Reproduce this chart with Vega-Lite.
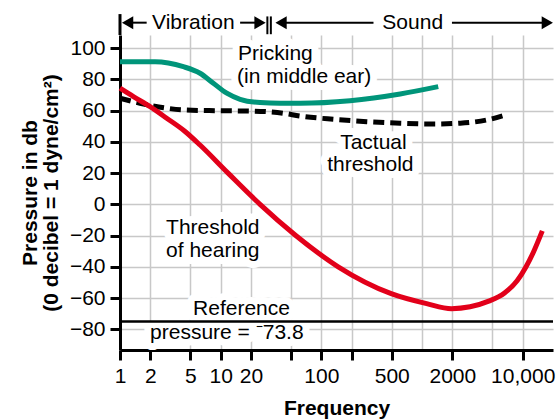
{
  "$schema": "https://vega.github.io/schema/vega-lite/v6.json",
  "width": 433,
  "height": 315,
  "autosize": {"type": "none"},
  "padding": {"left": 120, "top": 35, "right": 4, "bottom": 69},
  "background": "white",
  "config": {
    "font": "Liberation Sans",
    "view": {"stroke": null},
    "axis": {"labelFont": "Liberation Sans", "titleFont": "Liberation Sans", "labelColor": "black", "titleColor": "black", "labelOverlap": false},
    "axisY": {"labelOverlap": false}
  },
  "resolve": {"axis": {"x": "independent", "y": "independent"}},
  "datasets": {
    "pricking": [
      {"f": 1, "db": 91.4}, {"f": 2.23, "db": 91.4}, {"f": 4.26, "db": 88.2}, {"f": 6.24, "db": 84},
      {"f": 8.46, "db": 77.6}, {"f": 11.5, "db": 71.2}, {"f": 15.6, "db": 67.3}, {"f": 24.6, "db": 65.2},
      {"f": 38.9, "db": 64.8}, {"f": 61.5, "db": 64.8}, {"f": 193, "db": 66.4}, {"f": 607, "db": 70.7},
      {"f": 1449, "db": 75.4}
    ],
    "tactual": [
      {"f": 1, "db": 68}, {"f": 1.58, "db": 64.8}, {"f": 2.91, "db": 61.6}, {"f": 4.26, "db": 60.5},
      {"f": 9.15, "db": 60}, {"f": 19.6, "db": 59.8}, {"f": 41.7, "db": 58.4}, {"f": 61.5, "db": 56.6},
      {"f": 132, "db": 54.5}, {"f": 283, "db": 53}, {"f": 607, "db": 52}, {"f": 1301, "db": 51.5},
      {"f": 2399, "db": 52}, {"f": 4416, "db": 54.1}, {"f": 7030, "db": 57.6}
    ],
    "hearing": [
      {"f": 1, "db": 74.4}, {"f": 1.36, "db": 69}, {"f": 1.99, "db": 62.6}, {"f": 2.91, "db": 55.2},
      {"f": 4.43, "db": 46.7}, {"f": 6.24, "db": 38}, {"f": 11.85, "db": 20}, {"f": 24.6, "db": 0},
      {"f": 54.9, "db": -19.6}, {"f": 147, "db": -40}, {"f": 494, "db": -57.2},
      {"f": 1111, "db": -63.6}, {"f": 1964, "db": -66.8}, {"f": 3000, "db": -65.6}, {"f": 4600, "db": -62},
      {"f": 6600, "db": -56.8}, {"f": 8800, "db": -49}, {"f": 10800, "db": -40}, {"f": 12800, "db": -30.5}, {"f": 15660, "db": -17}
    ],
    "labels": [
      {"f": 14.9, "db": 92.5, "t": "Pricking"},
      {"f": 14.55, "db": 77.8, "t": "(in middle ear)"},
      {"f": 153.7, "db": 35.5, "t": "Tactual"},
      {"f": 114.2, "db": 21.4, "t": "threshold"},
      {"f": 2.87, "db": -19, "t": "Threshold"},
      {"f": 2.87, "db": -33.7, "t": "of hearing"},
      {"f": 5.32, "db": -70.9, "t": "Reference"},
      {"f": 1.99, "db": -86.2, "t": "pressure = ⁻73.8"}
    ],
    "header": [
      {"f": 5.35, "db": 116.4, "t": "Vibration"},
      {"f": 808, "db": 116.4, "t": "Sound"}
    ],
    "shafts": [
      {"f": 1.19, "f2": 1.84, "db": 116.4},
      {"f": 15.6, "f2": 24.6, "db": 116.4},
      {"f": 39.8, "f2": 329.6, "db": 116.4},
      {"f": 1983, "f2": 17560, "db": 116.4}
    ],
    "headsLeft": [{"f": 1.19, "db": 116.4}, {"f": 39.8, "db": 116.4}],
    "headsRight": [{"f": 24.6, "db": 116.4}, {"f": 17560, "db": 116.4}],
    "bars": [{"f": 29.1, "db": 109, "db2": 120.4}, {"f": 31.5, "db": 109, "db2": 120.4}],
    "axisExt": [{"f": 1, "db": 108.5, "db2": 121.9}],
    "reference": [{"db": -75}]
  },
  "layer": [
    {
      "data": {"name": "pricking"},
      "mark": {"type": "line", "opacity": 0},
      "encoding": {
        "x": {
          "field": "f", "type": "quantitative",
          "scale": {"type": "log", "domain": [1, 20000], "nice": false},
          "axis": {
            "values": [1, 2, 5, 10, 20, 50, 100, 200, 500, 1000, 2000, 5000, 10000],
            "title": "Frequency",
            "grid": true, "gridColor": "#c8c8c8", "gridWidth": 1.5,
            "domainColor": "black", "domainWidth": 3,
            "tickColor": "black", "tickWidth": 3, "tickSize": 10,
            "tickOpacity": {"condition": {"test": "datum.value == 1000 || datum.value == 5000", "value": 0}, "value": 1},
            "labelExpr": "indexof([50, 200, 1000, 5000], datum.value) >= 0 ? '' : (datum.value == 10000 ? '10,000' : '' + datum.value)",
            "labelFontSize": 21, "labelPadding": 5, "labelFlush": false, "labelOverlap": false,
            "titleFontSize": 21, "titleFontWeight": "bold", "titleBaseline": "alphabetic", "titleY": 64
          }
        },
        "y": {
          "field": "db", "type": "quantitative",
          "scale": {"domain": [-93.3, 108.5], "nice": false, "zero": false},
          "axis": {
            "values": [-80, -60, -40, -20, 0, 20, 40, 60, 80, 100],
            "title": ["Pressure in db", "(0 decibel = 1 dyne/cm²)"],
            "grid": true, "gridColor": "#c8c8c8", "gridWidth": 1.5,
            "domainColor": "black", "domainWidth": 3,
            "tickColor": "black", "tickWidth": 3, "tickSize": 10,
            "labelFontSize": 21, "labelPadding": 5, "labelOverlap": false, "labelFlush": false, "labelSeparation": 0,
            "titleFontSize": 21, "titleFontWeight": "bold", "titleAngle": -90,
            "titleX": -84, "titleY": 157.5, "titleAlign": "center", "titleBaseline": "alphabetic", "titleLineHeight": 21
          }
        }
      }
    },
    {
      "data": {"name": "labels"},
      "mark": {"type": "text", "align": "left", "baseline": "alphabetic", "fontSize": 21, "fill": "white", "stroke": "white", "strokeWidth": 14, "strokeJoin": "round"},
      "encoding": {
        "x": {"field": "f", "type": "quantitative", "axis": null},
        "y": {"field": "db", "type": "quantitative", "axis": null},
        "text": {"field": "t"}
      }
    },
    {
      "data": {"name": "labels"},
      "mark": {"type": "text", "align": "left", "baseline": "alphabetic", "fontSize": 21, "fill": "black"},
      "encoding": {
        "x": {"field": "f", "type": "quantitative", "axis": null},
        "y": {"field": "db", "type": "quantitative", "axis": null},
        "text": {"field": "t"}
      }
    },
    {
      "data": {"name": "pricking"},
      "mark": {"type": "line", "color": "#00957a", "strokeWidth": 5, "interpolate": "monotone", "strokeCap": "butt"},
      "encoding": {
        "x": {"field": "f", "type": "quantitative", "axis": null},
        "y": {"field": "db", "type": "quantitative", "axis": null}
      }
    },
    {
      "data": {"name": "tactual"},
      "mark": {"type": "line", "color": "black", "strokeWidth": 5, "interpolate": "monotone", "strokeDash": [11, 6], "strokeCap": "butt"},
      "encoding": {
        "x": {"field": "f", "type": "quantitative", "axis": null},
        "y": {"field": "db", "type": "quantitative", "axis": null}
      }
    },
    {
      "data": {"name": "hearing"},
      "mark": {"type": "line", "color": "#e2001a", "strokeWidth": 5, "interpolate": "monotone", "strokeCap": "butt"},
      "encoding": {
        "x": {"field": "f", "type": "quantitative", "axis": null},
        "y": {"field": "db", "type": "quantitative", "axis": null}
      }
    },
    {
      "data": {"name": "reference"},
      "mark": {"type": "rule", "color": "black", "strokeWidth": 2.5},
      "encoding": {
        "y": {"field": "db", "type": "quantitative", "axis": null}
      }
    },
    {
      "data": {"name": "header"},
      "mark": {"type": "text", "align": "center", "baseline": "middle", "fontSize": 21, "fill": "black"},
      "encoding": {
        "x": {"field": "f", "type": "quantitative", "axis": null},
        "y": {"field": "db", "type": "quantitative", "axis": null},
        "text": {"field": "t"}
      }
    },
    {
      "data": {"name": "shafts"},
      "mark": {"type": "rule", "color": "black", "strokeWidth": 2},
      "encoding": {
        "x": {"field": "f", "type": "quantitative", "axis": null},
        "x2": {"field": "f2"},
        "y": {"field": "db", "type": "quantitative", "axis": null}
      }
    },
    {
      "data": {"name": "headsLeft"},
      "mark": {"type": "point", "shape": "triangle-left", "filled": true, "color": "black", "size": 170, "opacity": 1},
      "encoding": {
        "x": {"field": "f", "type": "quantitative", "axis": null},
        "y": {"field": "db", "type": "quantitative", "axis": null}
      }
    },
    {
      "data": {"name": "headsRight"},
      "mark": {"type": "point", "shape": "triangle-right", "filled": true, "color": "black", "size": 170, "opacity": 1},
      "encoding": {
        "x": {"field": "f", "type": "quantitative", "axis": null},
        "y": {"field": "db", "type": "quantitative", "axis": null}
      }
    },
    {
      "data": {"name": "bars"},
      "mark": {"type": "rule", "color": "black", "strokeWidth": 2},
      "encoding": {
        "x": {"field": "f", "type": "quantitative", "axis": null},
        "y": {"field": "db", "type": "quantitative", "axis": null},
        "y2": {"field": "db2"}
      }
    },
    {
      "data": {"name": "axisExt"},
      "mark": {"type": "rule", "color": "black", "strokeWidth": 3},
      "encoding": {
        "x": {"field": "f", "type": "quantitative", "axis": null},
        "y": {"field": "db", "type": "quantitative", "axis": null},
        "y2": {"field": "db2"}
      }
    }
  ]
}
